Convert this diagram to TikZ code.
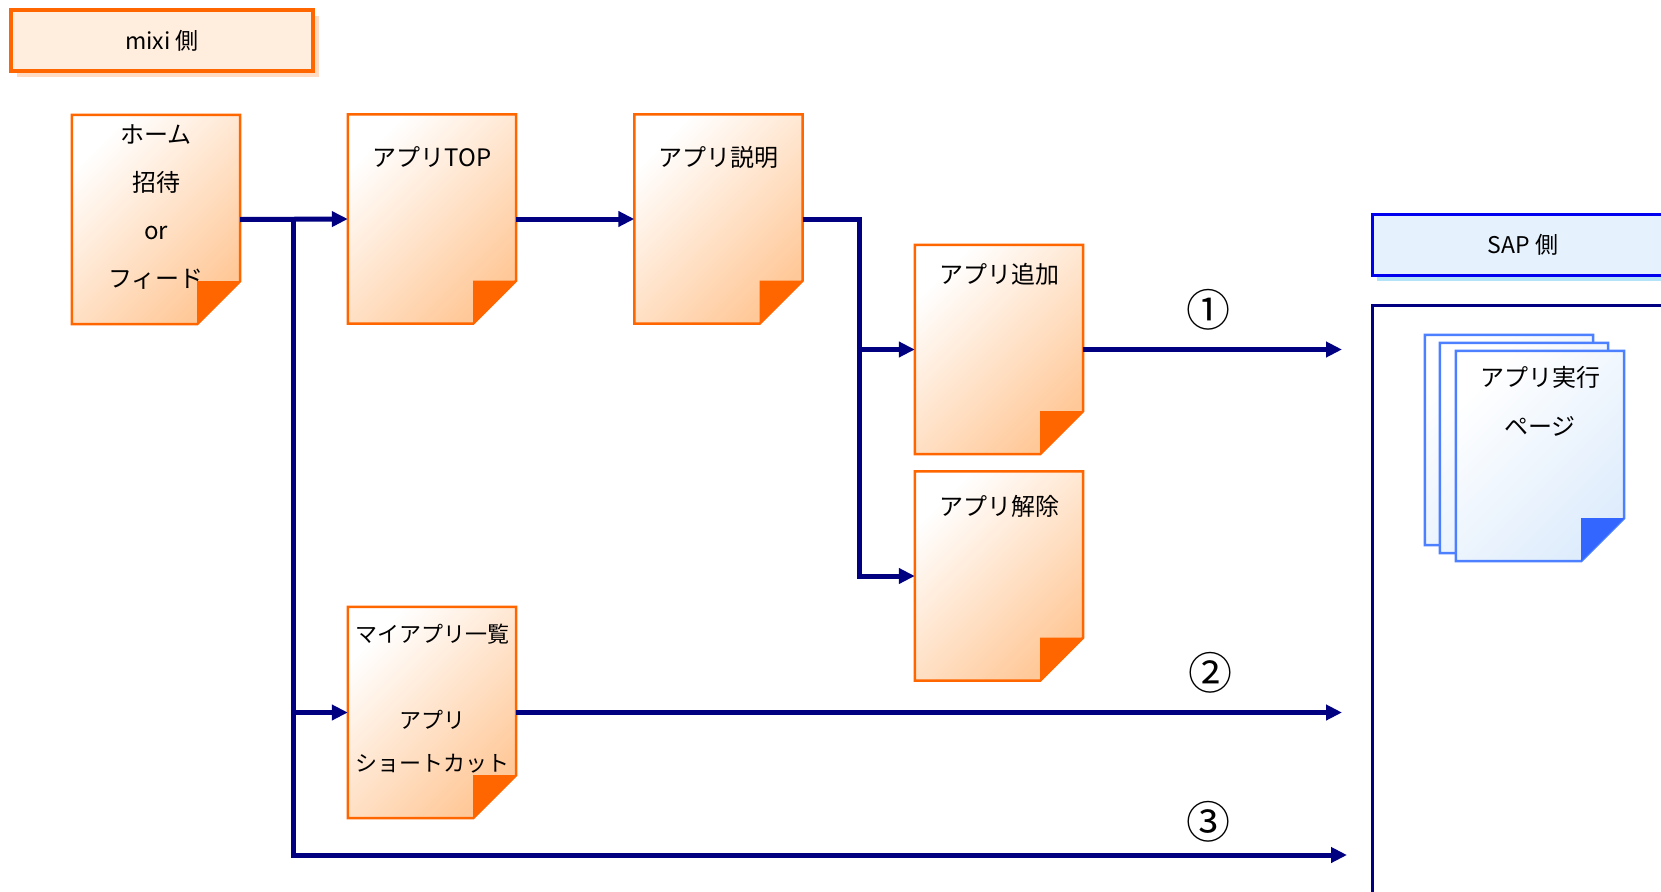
\documentclass[tikz,border=0pt]{standalone}
\usepackage{fontspec}
\setmainfont{Noto Sans CJK JP}
\usetikzlibrary{positioning,calc,arrows.meta,backgrounds}
\definecolor{mixic}{RGB}{255,102,0}
\definecolor{peach}{RGB}{255,200,152}
\definecolor{mixibg}{RGB}{255,237,222}
\definecolor{mixish}{RGB}{255,219,195}
\definecolor{linkc}{RGB}{0,0,128}
\definecolor{sapc}{RGB}{0,0,238}
\definecolor{sapbg}{RGB}{229,241,253}
\definecolor{sapsh}{RGB}{180,226,246}
\definecolor{sappage}{RGB}{77,128,255}
\definecolor{sapfold}{RGB}{51,102,255}
\definecolor{sapfill}{RGB}{222,236,252}

\begin{document}
\begin{tikzpicture}[x=1pt,y=-1pt]
\tikzstyle{page}=[minimum width=168pt,minimum height=209pt,inner sep=0pt];
\tikzstyle{txt}=[align=center,inner sep=0pt,font=\fontsize{24pt}{48pt}\selectfont];
\tikzstyle{link}=[linkc,line width=5pt,-{Triangle[length=16pt,width=15pt]}];
\tikzstyle{side}=[minimum width=302pt,minimum height=61pt,inner sep=0pt,font=\fontsize{23pt}{26pt}\selectfont];
\tikzstyle{num}=[font=\fontsize{44pt}{48pt}\selectfont,inner sep=0pt];
\tikzstyle{sappg}=[draw=sappage,line width=2.5pt,top color=white,bottom color=sapfill,shading angle=45];

\useasboundingbox (0,0) rectangle (1661,891);

% mixi side
\fill[mixish] (17,16) rectangle (319,77);
\node[side,fill=mixibg,draw=mixic,line width=4pt] (mixi) at (162,40.5) {mixi 側};

\node[page] (home) at (156,219.5) {};
\node[page] (apptop) at (432,219) {};
\node[page] (appinfo) at (718.5,219) {};
\node[page] (appadd) at (999,349.5) {};
\node[page] (appdel) at (999,576) {};
\node[page,minimum height=211pt] (myapps) at (432,712.5) {};

\foreach \p in {home,apptop,appinfo,appadd,appdel,myapps} {
  \shadedraw[mixic,line width=2.5pt,top color=white,bottom color=peach,shading angle=45]
    (\p.north west) -- (\p.north east) -- ([yshift=43pt]\p.south east)
    -- ([xshift=-43pt]\p.south east) -- (\p.south west) -- cycle;
  \fill[mixic] ([yshift=43pt]\p.south east) -- ([shift={(-43pt,43pt)}]\p.south east)
    -- ([xshift=-43pt]\p.south east) -- cycle;
}

\node[txt,below=10pt of home.north] (hometxt) {ホーム\\招待\\or\\フィード};
\node[txt,below=32pt of apptop.north] (apptoptxt) {アプリTOP};
\node[txt,below=32pt of appinfo.north] (appinfotxt) {アプリ説明};
\node[txt,below=18pt of appadd.north] (appaddtxt) {アプリ追加};
\node[txt,below=24pt of appdel.north] (appdeltxt) {アプリ解除};
\node[txt,below=17pt of myapps.north,font=\fontsize{22pt}{43pt}\selectfont] (myappstxt)
  {マイアプリ一覧\\[43pt]アプリ\\ショートカット};

% connectors
\coordinate (split) at (293,219);
\coordinate (fork) at (859,219);
\coordinate (out1) at (1342,349.5);
\coordinate (out2) at (1342,712.5);
\coordinate (out3) at (1347,855);

\draw[link] (home.east) -- (apptop.west);
\draw[link] (split) |- (myapps.west);
\draw[link] (split) |- (out3);
\draw[link] (apptop.east) -- (appinfo.west);
\draw[link] (appinfo.east) -- (fork) |- (appadd.west);
\draw[link] (fork) |- (appdel.west);
\draw[link] (appadd.east) -- (out1);
\draw[link] (myapps.east) -- (out2);

\node[num] (n1) at (1208,310) {①};
\node[num] (n2) at (1210,673) {②};
\node[num] (n3) at (1208,822) {③};

% SAP side
\fill[sapsh] (1377,275) rectangle (1680,281);
\node[side,fill=sapbg,draw=sapc,line width=3pt] (sap) at (1523,244.5) {SAP 側};
\draw[linkc,line width=3pt] (1372,305) rectangle (1720,920);

\node[page,minimum height=210pt] (run3) at (1509,440) {};
\node[page,minimum height=210pt] (run2) at (1524,448) {};
\node[page,minimum height=210pt] (run) at (1540,456) {};
\foreach \p in {run3,run2,run} {
  \shadedraw[sappg] (\p.north west) -- (\p.north east) -- ([yshift=43pt]\p.south east)
    -- ([xshift=-43pt]\p.south east) -- (\p.south west) -- cycle;
}
\fill[sapfold] ([yshift=43pt]run.south east) -- ([shift={(-43pt,43pt)}]run.south east)
  -- ([xshift=-43pt]run.south east) -- cycle;
\node[txt,below=15pt of run.north,font=\fontsize{24pt}{49pt}\selectfont] (runtxt) {アプリ実行\\ページ};

\end{tikzpicture}
\end{document}
